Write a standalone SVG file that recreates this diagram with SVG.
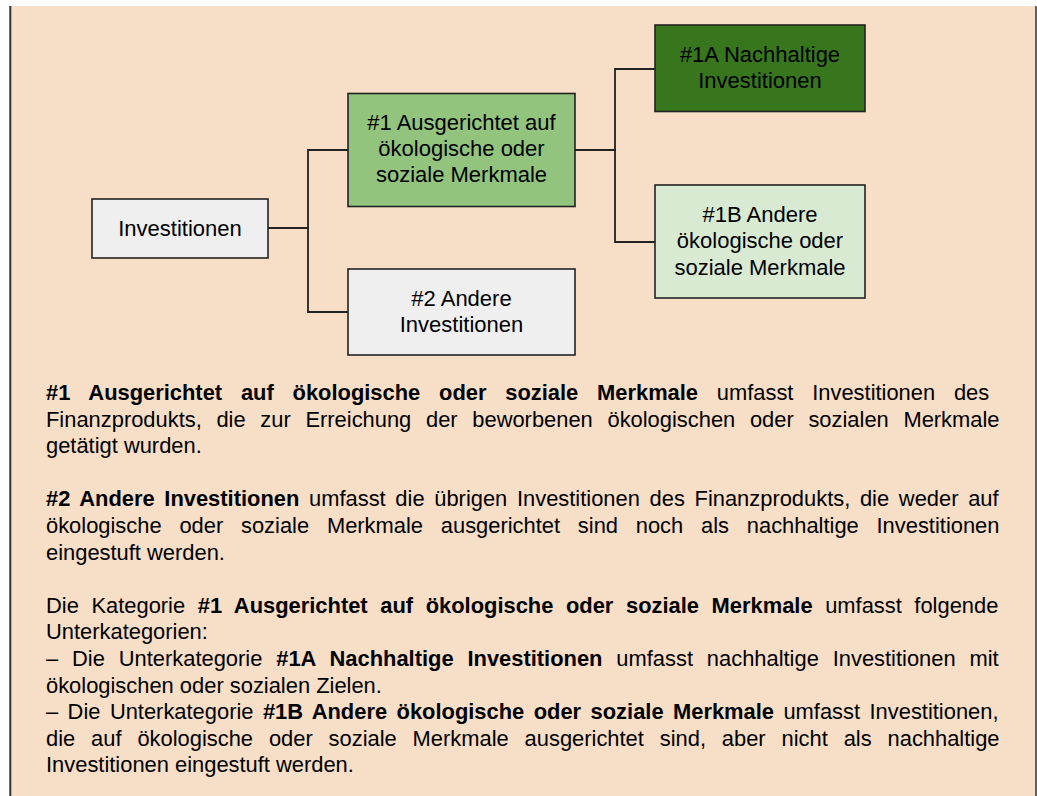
<svg xmlns="http://www.w3.org/2000/svg" width="1037" height="796" viewBox="0 0 1037 796">
<style>
.node rect{stroke:#222;stroke-width:1.6}
.lbl{font-family:"Liberation Sans",Arial,sans-serif;font-size:22px;fill:#000;text-anchor:middle}
.body{font-family:"Liberation Sans",Arial,sans-serif;font-size:21.9px;fill:#000}
.b{font-weight:bold}
.conn{fill:none;stroke:#222;stroke-width:1.8}
</style>
<rect x="0" y="0" width="1037" height="796" fill="#ffffff"/>
<rect x="10" y="6" width="1026" height="790" fill="#f6dec7"/>
<line x1="10.3" y1="6" x2="10.3" y2="796" stroke="#333" stroke-width="2"/>
<line x1="1036" y1="6" x2="1036" y2="796" stroke="#333" stroke-width="1.5"/>
<g id="connectors">
<path class="conn" d="M268 228H308V150H348"/>
<path class="conn" d="M268 228H308V312H348"/>
<path class="conn" d="M575 150H615V69H655"/>
<path class="conn" d="M575 150H615V242H655"/>
</g>
<g id="n-investitionen" class="node">
<rect x="92" y="199" width="176" height="59" fill="#efefef"/>
<text class="lbl" x="180" y="236">Investitionen</text>
</g>
<g id="n-1" class="node">
<rect x="348" y="93.5" width="227" height="113" fill="#93c47d"/>
<text class="lbl" x="461.5" y="130">#1 Ausgerichtet auf</text>
<text class="lbl" x="461.5" y="156">ökologische oder</text>
<text class="lbl" x="461.5" y="182">soziale Merkmale</text>
</g>
<g id="n-2" class="node">
<rect x="348" y="269" width="227" height="86" fill="#efefef"/>
<text class="lbl" x="461.5" y="305.5">#2 Andere</text>
<text class="lbl" x="461.5" y="331.5">Investitionen</text>
</g>
<g id="n-1a" class="node">
<rect x="655" y="25" width="210" height="86.5" fill="#38761d"/>
<text class="lbl" x="760" y="61.7">#1A Nachhaltige</text>
<text class="lbl" x="760" y="88.2">Investitionen</text>
</g>
<g id="n-1b" class="node">
<rect x="655" y="185" width="210" height="113" fill="#d9ead3"/>
<text class="lbl" x="760" y="221.7">#1B Andere</text>
<text class="lbl" x="760" y="248.3">ökologische oder</text>
<text class="lbl" x="760" y="275">soziale Merkmale</text>
</g>
<g id="legend">
<text class="body" x="46" y="400" style="word-spacing:12.7px"><tspan class="b">#1 Ausgerichtet auf ökologische oder soziale Merkmale</tspan> umfasst Investitionen des</text>
<text class="body" x="46" y="426.6" style="word-spacing:8.6px">Finanzprodukts, die zur Erreichung der beworbenen ökologischen oder sozialen Merkmale</text>
<text class="body" x="46" y="453.2">getätigt wurden.</text>
<text class="body" x="46" y="506.4" style="word-spacing:3.6px"><tspan class="b">#2 Andere Investitionen</tspan> umfasst die übrigen Investitionen des Finanzprodukts, die weder auf</text>
<text class="body" x="46" y="533" style="word-spacing:11.7px">ökologische oder soziale Merkmale ausgerichtet sind noch als nachhaltige Investitionen</text>
<text class="body" x="46" y="559.6">eingestuft werden.</text>
<text class="body" x="46" y="612.8" style="word-spacing:6.5px">Die Kategorie <tspan class="b">#1 Ausgerichtet auf ökologische oder soziale Merkmale</tspan> umfasst folgende</text>
<text class="body" x="46" y="639.4">Unterkategorien:</text>
<text class="body" x="46" y="666" style="word-spacing:7.8px">– Die Unterkategorie <tspan class="b">#1A Nachhaltige Investitionen</tspan> umfasst nachhaltige Investitionen mit</text>
<text class="body" x="46" y="692.6">ökologischen oder sozialen Zielen.</text>
<text class="body" x="46" y="719.2" style="word-spacing:3.35px">– Die Unterkategorie <tspan class="b">#1B Andere ökologische oder soziale Merkmale</tspan> umfasst Investitionen,</text>
<text class="body" x="46" y="745.8" style="word-spacing:9.8px">die auf ökologische oder soziale Merkmale ausgerichtet sind, aber nicht als nachhaltige</text>
<text class="body" x="46" y="772.4">Investitionen eingestuft werden.</text>
</g>
</svg>
